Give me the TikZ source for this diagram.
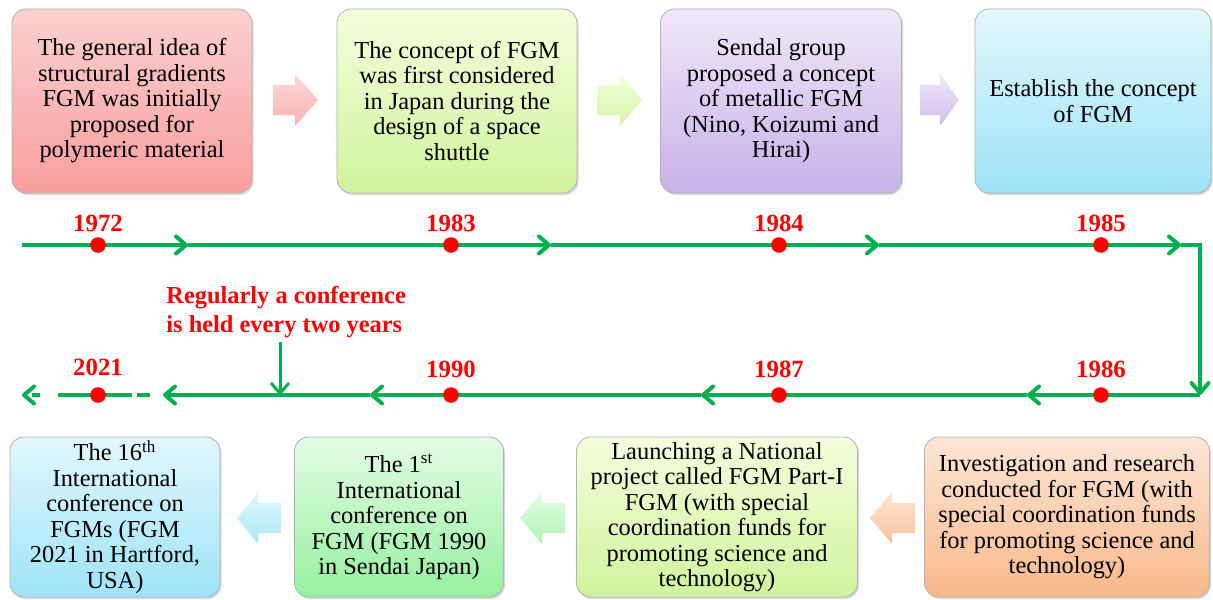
\documentclass[tikz,border=0pt]{standalone}
\usepackage{fontspec}
\setmainfont{Liberation Serif}
\usetikzlibrary{arrows.meta,shadows}
\definecolor{tlgreen}{RGB}{0,176,80}
\definecolor{tlred}{RGB}{255,0,0}
\definecolor{pinkT}{RGB}{252,208,208}\definecolor{pinkB}{RGB}{248,158,158}
\definecolor{limeT}{RGB}{244,255,220}\definecolor{limeB}{RGB}{208,243,158}
\definecolor{lilaT}{RGB}{240,232,249}\definecolor{lilaB}{RGB}{198,178,232}
\definecolor{cyanT}{RGB}{226,248,253}\definecolor{cyanB}{RGB}{158,227,248}
\definecolor{mintT}{RGB}{228,253,228}\definecolor{mintB}{RGB}{150,240,160}
\definecolor{oranT}{RGB}{253,230,214}\definecolor{oranB}{RGB}{248,184,138}
\newcommand\rarrowshape[6]{%
  \shade[top color=#5,bottom color=#6] (#1,#4-15) -- (#2,#4-15) -- (#2,#4-26) -- (#3,#4) -- (#2,#4+26) -- (#2,#4+15) -- (#1,#4+15) -- cycle;}
\begin{document}
\begin{tikzpicture}[x=0.5pt,y=-0.5pt,
  box/.style={draw=black!30, line width=0.4pt, rounded corners=7pt, align=center,
    inner sep=0pt, font=\fontsize{12.2}{12.75}\selectfont,
    drop shadow={opacity=0.3,shadow xshift=0.8pt,shadow yshift=-1pt}},
  tl/.style={draw=tlgreen, line width=2pt},
  tip/.tip={Straight Barb[length=5pt,width=8.5pt,round]},
  dot/.style={circle, fill=tlred, minimum size=7.8pt, inner sep=0pt},
  yr/.style={text=tlred, inner sep=0pt, font=\fontsize{12.4}{14}\selectfont\bfseries}]
\useasboundingbox (0,0) rectangle (1213,599);

% top boxes
\node[box, top color=pinkT, bottom color=pinkB, minimum width=120pt, minimum height=92pt] (b1) at (132,101)
  {The general idea of\\structural gradients\\FGM was initially\\proposed for\\polymeric material};
\node[box, top color=limeT, bottom color=limeB, minimum width=120pt, minimum height=92pt] (b2) at (457,101)
  {The concept of FGM\\was first considered\\in Japan during the\\design of a space\\shuttle};
\node[box, top color=lilaT, bottom color=lilaB, minimum width=120.5pt, minimum height=92pt] (b3) at (781,101)
  {Sendal group\\proposed a concept\\of metallic FGM\\(Nino, Koizumi and\\Hirai)};
\node[box, top color=cyanT, bottom color=cyanB, minimum width=118pt, minimum height=92pt] (b4) at (1093,101)
  {Establish the concept\\of FGM};

% bottom boxes
\node[box, top color=cyanT, bottom color=cyanB, minimum width=105pt, minimum height=80pt] (bA) at (115,517)
  {The 16\textsuperscript{th}\\International\\conference on\\FGMs (FGM\\2021 in Hartford,\\USA)};
\node[box, top color=mintT, bottom color=mintB, minimum width=104.5pt, minimum height=80pt] (bB) at (399,517)
  {The 1\textsuperscript{st}\\International\\conference on\\FGM (FGM 1990\\in Sendai Japan)};
\node[box, top color=limeT, bottom color=limeB, minimum width=140.5pt, minimum height=80pt] (bC) at (717,517)
  {Launching a National\\project called FGM Part-I\\FGM (with special\\coordination funds for\\promoting science and\\technology)};
\node[box, top color=oranT, bottom color=oranB, minimum width=142.5pt, minimum height=80pt] (bD) at (1067,517)
  {Investigation and research\\conducted for FGM (with\\special coordination funds\\for promoting science and\\technology)};

% block arrows
\rarrowshape{273}{295}{318}{100}{pinkT!80!white}{pinkB!80!white}
\rarrowshape{597}{620}{642}{100}{limeT}{limeB!90!white}
\rarrowshape{920}{940}{959}{100}{lilaT}{lilaB!85!white}
\rarrowshape{281}{258}{237}{518}{cyanT}{cyanB!85!white}
\rarrowshape{565}{542}{520}{518}{mintT}{mintB!75!white}
\rarrowshape{915}{892}{870}{518}{oranT}{oranB!85!white}

% timeline coordinates
\coordinate (s) at (22,245);
\coordinate (t1) at (188,245);
\coordinate (t2) at (551,245);
\coordinate (t3) at (879,245);
\coordinate (t4) at (1181,245);
\coordinate (c1) at (1200,245);
\coordinate (c2) at (1200,395);
\coordinate (u1) at (1027,395);
\coordinate (u2) at (701,395);
\coordinate (u3) at (370,395);
\coordinate (u4) at (163,395);
\coordinate (e) at (22,395);
\coordinate (cfoot) at (280,395);

\draw[tl,-tip] (s) -- (t1);
\draw[tl,-tip] (t1) -- (t2);
\draw[tl,-tip] (t2) -- (t3);
\draw[tl,-tip] (t3) -- (t4);
\draw[tl,-tip] (t4) -- (c1) -- (c2);
\draw[tl,-tip] (c2) -- (u1);
\draw[tl,-tip] (u1) -- (u2);
\draw[tl,-tip] (u2) -- (u3);
\draw[tl,-tip] (u3) -- (u4);
\draw[tl,-tip,dash pattern=on 0pt off 6.5pt on 6.5pt off 2.5pt on 37pt off 9pt on 4pt off 3pt on 20pt] (u4) -- (e);

% dots
\node[dot] (d72) at (98,245) {};
\node[dot] (d83) at (451,245) {};
\node[dot] (d84) at (779,245) {};
\node[dot] (d85) at (1101,245) {};
\node[dot] (d86) at (1101,395) {};
\node[dot] (d87) at (779,395) {};
\node[dot] (d90) at (451,395) {};
\node[dot] (d21) at (98,395) {};

% year labels
\node[yr] (l72) at (98,223) {1972};
\node[yr] (l83) at (451,223) {1983};
\node[yr] (l84) at (779,223) {1984};
\node[yr] (l85) at (1101,223) {1985};
\node[yr] (l86) at (1101,369) {1986};
\node[yr] (l87) at (779,369) {1987};
\node[yr] (l90) at (451,369) {1990};
\node[yr] (l21) at (98,367) {2021};

% conference note
\node[anchor=west, align=left, text=tlred, inner sep=0pt, font=\fontsize{12.2}{14.5}\selectfont\bfseries] (conf) at (166,312)
  {Regularly a conference\\is held every two years};
\draw[draw=tlgreen, line width=1.5pt, -tip] ([yshift=-2pt]conf.south -| cfoot) -- (cfoot);
\end{tikzpicture}
\end{document}
